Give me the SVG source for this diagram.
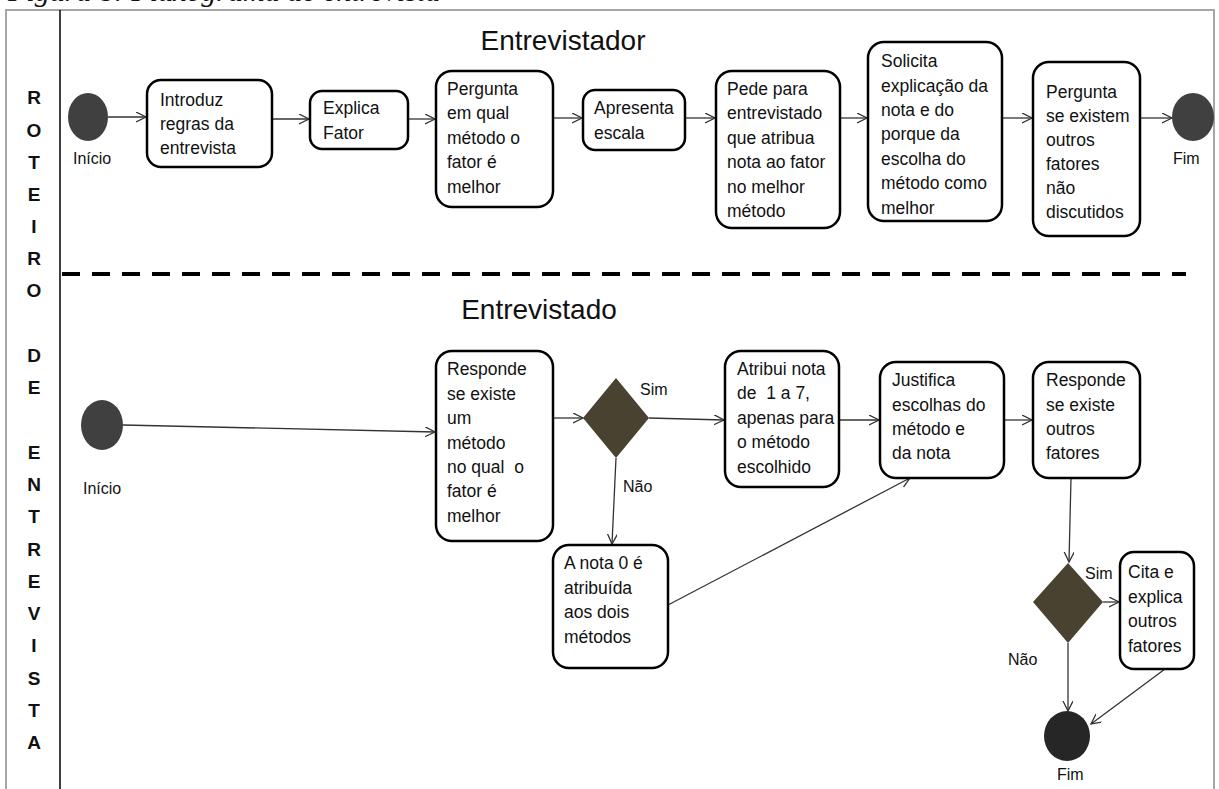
<svg xmlns="http://www.w3.org/2000/svg" width="1219" height="789" viewBox="0 0 1219 789">
<style>
.bg{fill:#fff}
.frame{fill:none;stroke:#a6a6a6;stroke-width:2}
.box{fill:#fff;stroke:#000;stroke-width:2.5}
.t{font-family:"Liberation Sans",Arial,sans-serif;font-size:17.5px;fill:#111;white-space:pre}
.lbl{font-family:"Liberation Sans",Arial,sans-serif;font-size:16px;fill:#111}
.title{font-family:"Liberation Sans",Arial,sans-serif;font-size:28px;fill:#111;text-anchor:middle}
.side{font-family:"Liberation Sans",Arial,sans-serif;font-size:19px;font-weight:bold;fill:#111;text-anchor:middle}
.cap{font-family:"Liberation Serif","Times New Roman",serif;font-size:30px;font-style:italic;fill:#111}
.start{fill:#404040}
.end{fill:#262626}
.dec{fill:#4a4230}
.c{fill:none;stroke:#333;stroke-width:1.3;marker-end:url(#arr)}
</style>
<defs>
<marker id="arr" markerUnits="userSpaceOnUse" markerWidth="12" markerHeight="12" refX="10" refY="5" orient="auto">
<path d="M0,0 L10,5 L0,10" fill="none" stroke="#333" stroke-width="1.3"/>
</marker>
</defs>
<rect class="bg" x="0" y="0" width="1219" height="789"/>
<text class="cap" x="8" y="1">Figura 8: Fluxograma de entrevista</text>
<rect class="frame" x="6" y="10" width="1208" height="800"/>
<line x1="60" y1="10" x2="60" y2="789" stroke="#000" stroke-width="1.5"/>
<line x1="62" y1="274" x2="1186" y2="274" stroke="#000" stroke-width="4" stroke-dasharray="18 12"/>

<g id="side-label">
<text class="side" x="34" y="104">R</text>
<text class="side" x="34" y="137">O</text>
<text class="side" x="34" y="169">T</text>
<text class="side" x="34" y="201">E</text>
<text class="side" x="34" y="233">I</text>
<text class="side" x="34" y="265">R</text>
<text class="side" x="34" y="297">O</text>
<text class="side" x="34" y="362">D</text>
<text class="side" x="34" y="394">E</text>
<text class="side" x="34" y="459">E</text>
<text class="side" x="34" y="491">N</text>
<text class="side" x="34" y="523">T</text>
<text class="side" x="34" y="556">R</text>
<text class="side" x="34" y="588">E</text>
<text class="side" x="34" y="620">V</text>
<text class="side" x="34" y="652">I</text>
<text class="side" x="34" y="685">S</text>
<text class="side" x="34" y="717">T</text>
<text class="side" x="34" y="749">A</text>
</g>

<g id="titles">
<text class="title" x="563" y="50">Entrevistador</text>
<text class="title" x="539" y="319">Entrevistado</text>
</g>

<g id="connectors">
<line class="c" x1="108" y1="117" x2="146" y2="117"/>
<line class="c" x1="272" y1="119" x2="309" y2="119"/>
<line class="c" x1="408" y1="119" x2="435" y2="119"/>
<line class="c" x1="553" y1="118" x2="582" y2="118"/>
<line class="c" x1="685" y1="118" x2="715" y2="118"/>
<line class="c" x1="840" y1="118" x2="867" y2="118"/>
<line class="c" x1="1002" y1="118" x2="1032" y2="118"/>
<line class="c" x1="1140" y1="118" x2="1172" y2="118"/>
<line class="c" x1="123" y1="425" x2="435" y2="432"/>
<line class="c" x1="553" y1="418" x2="583" y2="418"/>
<line class="c" x1="649" y1="418" x2="724" y2="420"/>
<line class="c" x1="616" y1="458" x2="612" y2="544"/>
<line class="c" x1="839" y1="420" x2="879" y2="420"/>
<line class="c" x1="1004" y1="420" x2="1032" y2="420"/>
<line class="c" x1="668" y1="605" x2="910" y2="478"/>
<line class="c" x1="1071" y1="478" x2="1069" y2="562"/>
<line class="c" x1="1103" y1="602" x2="1119" y2="602"/>
<line class="c" x1="1068" y1="643" x2="1068" y2="711"/>
<line class="c" x1="1165" y1="669" x2="1091" y2="724"/>
</g>

<g id="inicio-top">
<ellipse class="start" cx="88" cy="117" rx="20" ry="24"/>
<text class="lbl" x="73" y="164">Início</text>
</g>
<g id="introduz">
<rect class="box" x="147" y="80" width="125" height="87" rx="14"/>
<text class="t"><tspan x="160" y="106">Introduz</tspan><tspan x="160" y="130">regras da</tspan><tspan x="160" y="154">entrevista</tspan></text>
</g>
<g id="explica">
<rect class="box" x="310" y="91" width="98" height="58" rx="12"/>
<text class="t"><tspan x="323" y="114">Explica</tspan><tspan x="323" y="139">Fator</tspan></text>
</g>
<g id="pergunta-metodo">
<rect class="box" x="436" y="71" width="117" height="136" rx="16"/>
<text class="t"><tspan x="447" y="95">Pergunta</tspan><tspan x="447" y="119">em qual</tspan><tspan x="447" y="144">método o</tspan><tspan x="447" y="168">fator é</tspan><tspan x="447" y="193">melhor</tspan></text>
</g>
<g id="apresenta">
<rect class="box" x="583" y="90" width="102" height="60" rx="12"/>
<text class="t"><tspan x="594" y="114">Apresenta</tspan><tspan x="594" y="139">escala</tspan></text>
</g>
<g id="pede">
<rect class="box" x="716" y="71" width="124" height="157" rx="16"/>
<text class="t"><tspan x="727" y="95">Pede para</tspan><tspan x="727" y="119">entrevistado</tspan><tspan x="727" y="144">que atribua</tspan><tspan x="727" y="168">nota ao fator</tspan><tspan x="727" y="193">no melhor</tspan><tspan x="727" y="217">método</tspan></text>
</g>
<g id="solicita">
<rect class="box" x="868" y="42" width="134" height="179" rx="16"/>
<text class="t"><tspan x="881" y="67">Solicita</tspan><tspan x="881" y="92">explicação da</tspan><tspan x="881" y="116">nota e do</tspan><tspan x="881" y="140">porque da</tspan><tspan x="881" y="165">escolha do</tspan><tspan x="881" y="189">método como</tspan><tspan x="881" y="214">melhor</tspan></text>
</g>
<g id="pergunta-outros">
<rect class="box" x="1033" y="62" width="107" height="174" rx="16"/>
<text class="t"><tspan x="1046" y="98">Pergunta</tspan><tspan x="1046" y="122">se existem</tspan><tspan x="1046" y="146">outros</tspan><tspan x="1046" y="170">fatores</tspan><tspan x="1046" y="194">não</tspan><tspan x="1046" y="218">discutidos</tspan></text>
</g>
<g id="fim-top">
<ellipse class="start" cx="1193" cy="117" rx="21" ry="24"/>
<text class="lbl" x="1173" y="164">Fim</text>
</g>

<g id="inicio-bottom">
<ellipse class="start" cx="102" cy="425" rx="21" ry="25"/>
<text class="lbl" x="83" y="494">Início</text>
</g>
<g id="responde-metodo">
<rect class="box" x="436" y="351" width="117" height="190" rx="16"/>
<text class="t"><tspan x="447" y="375">Responde</tspan><tspan x="447" y="400">se existe</tspan><tspan x="447" y="424">um</tspan><tspan x="447" y="449">método</tspan><tspan x="447" y="473">no qual  o</tspan><tspan x="447" y="497">fator é</tspan><tspan x="447" y="522">melhor</tspan></text>
</g>
<g id="decisao-metodo">
<polygon class="dec" points="616,378 649,418 616,458 583,418"/>
<text class="lbl" x="640" y="395">Sim</text>
<text class="lbl" x="623" y="492">Não</text>
</g>
<g id="atribui">
<rect class="box" x="725" y="351" width="114" height="136" rx="16"/>
<text class="t"><tspan x="737" y="375">Atribui nota</tspan><tspan x="737" y="399">de  1 a 7,</tspan><tspan x="737" y="424">apenas para</tspan><tspan x="737" y="448">o método</tspan><tspan x="737" y="473">escolhido</tspan></text>
</g>
<g id="nota-zero">
<rect class="box" x="553" y="545" width="115" height="123" rx="16"/>
<text class="t"><tspan x="564" y="569">A nota 0 é</tspan><tspan x="564" y="594">atribuída</tspan><tspan x="564" y="618">aos dois</tspan><tspan x="564" y="643">métodos</tspan></text>
</g>
<g id="justifica">
<rect class="box" x="880" y="362" width="124" height="116" rx="16"/>
<text class="t"><tspan x="892" y="386">Justifica</tspan><tspan x="892" y="411">escolhas do</tspan><tspan x="892" y="435">método e</tspan><tspan x="892" y="459">da nota</tspan></text>
</g>
<g id="responde-outros">
<rect class="box" x="1033" y="362" width="107" height="116" rx="16"/>
<text class="t"><tspan x="1046" y="386">Responde</tspan><tspan x="1046" y="411">se existe</tspan><tspan x="1046" y="435">outros</tspan><tspan x="1046" y="459">fatores</tspan></text>
</g>
<g id="decisao-outros">
<polygon class="dec" points="1068,563 1103,602 1068,643 1033,602"/>
<text class="lbl" x="1085" y="579">Sim</text>
<text class="lbl" x="1008" y="665">Não</text>
</g>
<g id="cita">
<rect class="box" x="1120" y="552" width="74" height="117" rx="14"/>
<text class="t"><tspan x="1128" y="578">Cita e</tspan><tspan x="1128" y="603">explica</tspan><tspan x="1128" y="627">outros</tspan><tspan x="1128" y="652">fatores</tspan></text>
</g>
<g id="fim-bottom">
<ellipse class="end" cx="1067" cy="736" rx="23" ry="25"/>
<text class="lbl" x="1057" y="780">Fim</text>
</g>
</svg>
